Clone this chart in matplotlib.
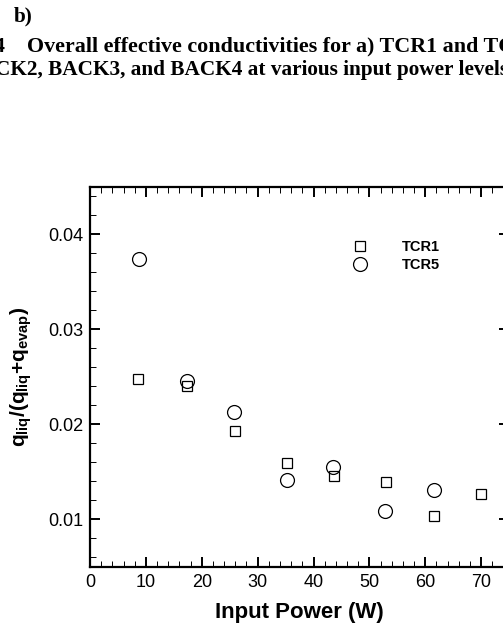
import matplotlib
matplotlib.use("Agg")
import matplotlib.pyplot as plt
from matplotlib.ticker import MultipleLocator

# data
tcr1_power = [8.6, 17.4, 26.0, 35.3, 43.6, 52.9, 61.5, 69.9]
tcr1_ratio = [0.0248, 0.0240, 0.0193, 0.0159, 0.0146, 0.0139, 0.0104, 0.0127]
tcr5_power = [8.8, 17.4, 25.8, 35.2, 43.5, 52.8, 61.5]
tcr5_ratio = [0.0374, 0.0246, 0.0213, 0.0142, 0.0155, 0.0109, 0.0131]
x_ticks = [0, 10, 20, 30, 40, 50, 60, 70]
y_ticks = [0.01, 0.02, 0.03, 0.04]

plt.rcParams['font.family'] = 'Liberation Sans'
plt.rcParams['mathtext.fontset'] = 'custom'
plt.rcParams['mathtext.rm'] = 'Liberation Sans:bold'
plt.rcParams['mathtext.it'] = 'Liberation Sans:bold'
plt.rcParams['mathtext.bf'] = 'Liberation Sans:bold'

fig = plt.figure(figsize=(5.03, 6.23), dpi=100)
ax = fig.add_axes([0.179, 0.0899, 0.833, 0.61])

ax.plot(tcr1_power, tcr1_ratio, 's', ms=7, mfc='none', mec='black', mew=0.9, label='TCR1')
ax.plot(tcr5_power, tcr5_ratio, 'o', ms=10, mfc='none', mec='black', mew=0.9, label='TCR5')

ax.set_xlim(0, 75)
ax.set_ylim(0.005, 0.045)
ax.set_xticks(x_ticks)
ax.set_yticks(y_ticks)
ax.set_yticklabels(['%.2f' % v for v in y_ticks])
ax.xaxis.set_minor_locator(MultipleLocator(2))
ax.yaxis.set_minor_locator(MultipleLocator(0.002))
ax.tick_params(which='both', direction='in', top=True, right=True, labelsize=13)
ax.tick_params(which='major', length=7.5, width=1.4, pad=5)
ax.tick_params(which='minor', length=4.3, width=0.7)
for s in ax.spines.values():
    s.set_linewidth(1.6)

ax.set_xlabel('Input Power (W)', fontsize=16, fontweight='bold', labelpad=8)
ax.set_ylabel(r'$q_{liq}/(q_{liq}{+}q_{evap})$', fontsize=15, labelpad=10)

leg = ax.legend(loc='upper left', bbox_to_anchor=(0.595, 0.895), frameon=False,
                handlelength=1.0, handletextpad=2.4, labelspacing=0.3,
                prop={'weight': 'bold', 'size': 10.5})

# caption fragments cut off at the page edge
serif = {'family': 'Liberation Serif', 'weight': 'bold'}
fig.text(0.028, 0.973, 'b)', va='center', ha='left', size=15.3, **serif)
fig.text(-0.012, 0.925, '4    Overall effective conductivities for a) TCR1 and TCR5',
         va='center', ha='left', size=15.8, **serif)
fig.text(-0.01, 0.888, 'CK2, BACK3, and BACK4 at various input power levels',
         va='center', ha='left', size=15.3, **serif)

fig.savefig('out.png', dpi=100)
